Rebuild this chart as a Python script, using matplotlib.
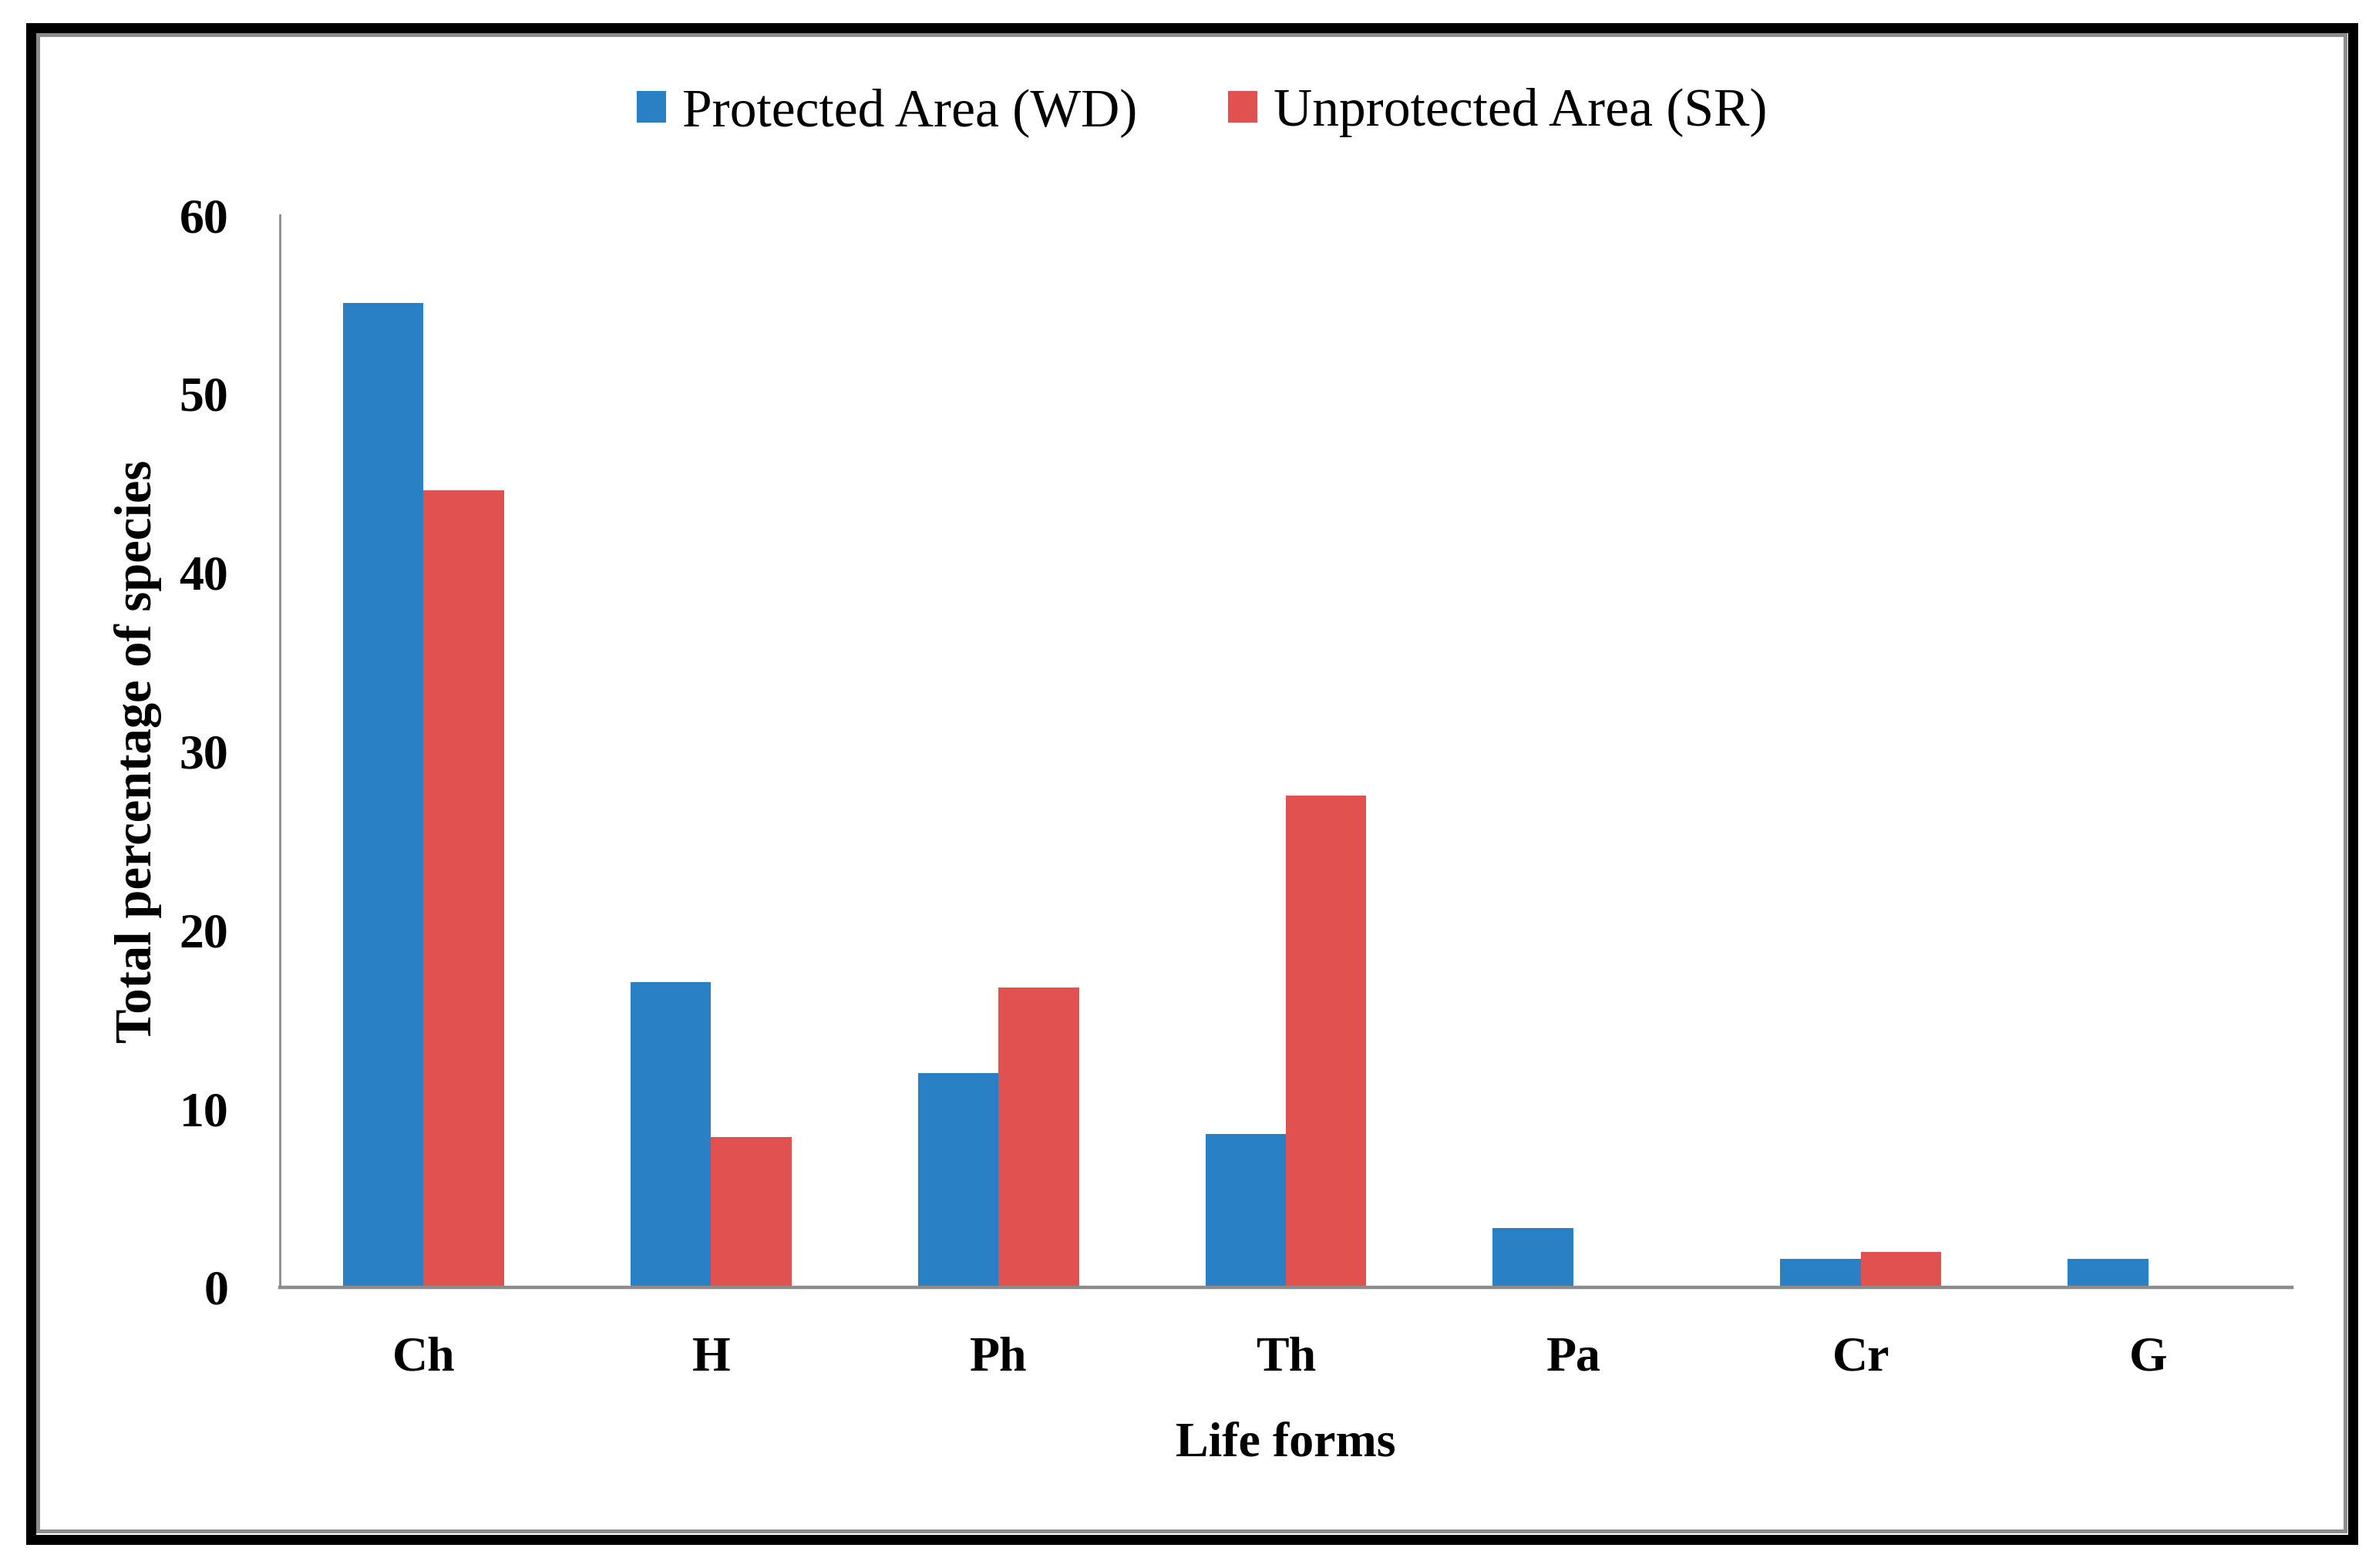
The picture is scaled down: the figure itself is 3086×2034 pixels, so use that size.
import numpy as np
import matplotlib.pyplot as plt
from matplotlib.patches import Rectangle

# life forms and percentages
life_forms = ['Ch', 'H', 'Ph', 'Th', 'Pa', 'Cr', 'G']
protected = [55.1, 17.1, 12.0, 8.6, 3.3, 1.6, 1.6]
unprotected = [44.6, 8.4, 16.8, 27.5, 0.0, 2.0, 0.0]
yticks = [0, 10, 20, 30, 40, 50, 60]

plt.rcParams['font.family'] = ['Liberation Serif', 'DejaVu Serif']

W, H = 3086, 2034
dpi = 200
fig = plt.figure(figsize=(W / dpi, H / dpi), dpi=dpi)

# thick black frame with thin grey line inside
fig.patches.append(Rectangle((40 / W, 1 - 1997 / H), 3012 / W, (1997 - 35.5) / H,
                             transform=fig.transFigure, fill=False,
                             edgecolor='black', lw=4.7, zorder=0))
fig.patches.append(Rectangle((49 / W, 1 - 1986 / H), 2993 / W, (1986 - 45) / H,
                             transform=fig.transFigure, fill=False,
                             edgecolor='#8c8c8c', lw=1.8, zorder=0))

ax = fig.add_axes([363 / W, 1 - 1670 / H, (2973 - 363) / W, (1670 - 279) / H])

x = np.arange(len(life_forms))
w = 0.28
ax.bar(x - w / 2, protected, w, color='#2980c4', label='Protected Area (WD)', zorder=2)
ax.bar(x + w / 2, unprotected, w, color='#e0514f', label='Unprotected Area (SR)', zorder=2)

ax.set_xlim(-0.5, len(life_forms) - 0.5)
ax.set_ylim(0, 60)
ax.set_yticks(yticks)
ax.set_xticks(x)
ax.set_xticklabels(life_forms)

for s in ['top', 'right']:
    ax.spines[s].set_visible(False)
ax.spines['left'].set_color('#8c8c8c')
ax.spines['left'].set_linewidth(1.0)
ax.spines['bottom'].set_color('#8c8c8c')
ax.spines['bottom'].set_linewidth(1.6)

ax.tick_params(axis='both', length=0, labelsize=23)
ax.tick_params(axis='y', pad=24)
ax.tick_params(axis='x', pad=23)
for t in ax.get_xticklabels() + ax.get_yticklabels():
    t.set_fontweight('bold')

ax.set_xlabel('Life forms', fontsize=23, fontweight='bold', labelpad=19)
ax.set_ylabel('Total percentage of species', fontsize=24, fontweight='bold', labelpad=8)

fig.legend(loc='center', bbox_to_anchor=(1559 / W, 1 - 146 / H), ncol=2,
           frameon=False, fontsize=25, handlelength=0.55, handleheight=0.55,
           handletextpad=0.3, columnspacing=1.7)

plt.savefig('out.png', dpi=dpi)
